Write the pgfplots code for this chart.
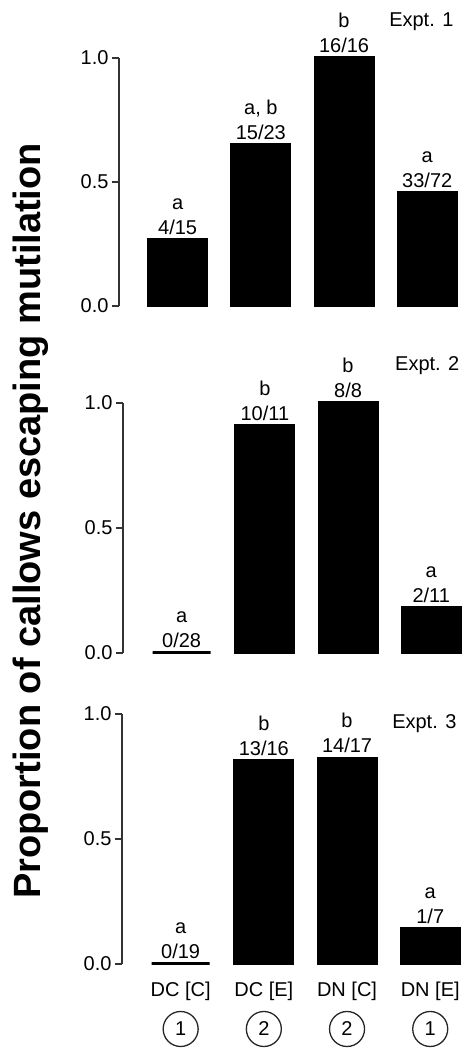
\documentclass[border=0pt]{standalone}
\usepackage{pgfplots}
\pgfplotsset{compat=1.18}
\usepackage{fontspec}
\setmainfont{Liberation Sans}

\newcommand\sz{\fontsize{20}{25}\selectfont}
\newcommand\circnum[1]{\tikz[baseline=(c.base)]\node[circle,draw=black!85,line width=1.3pt,minimum size=35pt,inner sep=0pt](c){#1};}

\pgfplotsset{
  panel/.style={
    scale only axis, width=341.5pt, height=249pt,
    xmin=-0.705, xmax=3.4, ymin=0, ymax=1,
    axis y line=left, axis x line=bottom,
    x axis line style={draw=none}, xtick style={draw=none},
    axis line style={-, black!80, line width=1.1pt},
    ytick={0,0.5,1}, yticklabels={0.0,0.5,1.0},
    ytick style={black!80, line width=1.1pt},
    tick align=outside, major tick length=7pt,
    tick label style={font=\sz},
    xtick=\empty,
    ybar, bar width=58pt, clip=false,
    point meta=explicit symbolic,
    nodes near coords={\pgfplotspointmeta},
    every node near coord/.append style={align=center, font=\sz, inner sep=0pt, anchor=south, yshift=3.5pt},
  },
  bars/.style={fill=black, draw=black, line width=3pt},
}

\begin{document}
\begin{tikzpicture}
\useasboundingbox (0,0) rectangle (465pt,1048pt);

\node[rotate=90, anchor=base, font=\fontsize{38}{40}\selectfont\bfseries] at (40pt,527pt)
  {Proportion of callows escaping mutilation};

% Expt. 1
\begin{axis}[panel, height=248pt, at={(119pt,742pt)}, anchor=south west]
\addplot[bars] coordinates {(0,0.2667) [{a\\4/15}] (1,0.6522) [{a, b\\15/23}] (2,1.0) [{b\\16/16}] (3,0.4583) [{a\\33/72}]};
\node[anchor=base east, font=\sz] at (axis cs:3.357,1.125) {Expt. 1};
\end{axis}

% Expt. 2
\begin{axis}[panel, height=250pt, at={(123pt,395pt)}, anchor=south west]
\addplot[bars] coordinates {(0,0) [{a\\0/28}] (1,0.9091) [{b\\10/11}] (2,1.0) [{b\\8/8}] (3,0.1818) [{a\\2/11}]};
\node[anchor=base east, font=\sz] at (axis cs:3.38,1.128) {Expt. 2};
\end{axis}

% Expt. 3
\begin{axis}[panel, height=250pt, at={(122pt,84pt)}, anchor=south west,
  xtick={0,1,2,3},
  xticklabels={{DC [C]\\[9pt]\circnum{1}},{DC [E]\\[9pt]\circnum{2}},{DN [C]\\[9pt]\circnum{2}},{DN [E]\\[9pt]\circnum{1}}},
  xticklabel style={align=center, inner sep=0pt, anchor=north, yshift=-11pt}]
\addplot[bars] coordinates {(0,0) [{a\\0/19}] (1,0.8125) [{b\\13/16}] (2,0.8235) [{b\\14/17}] (3,0.1429) [{a\\1/7}]};
\node[anchor=base east, font=\sz] at (axis cs:3.357,0.94) {Expt. 3};
\end{axis}
\end{tikzpicture}
\end{document}
